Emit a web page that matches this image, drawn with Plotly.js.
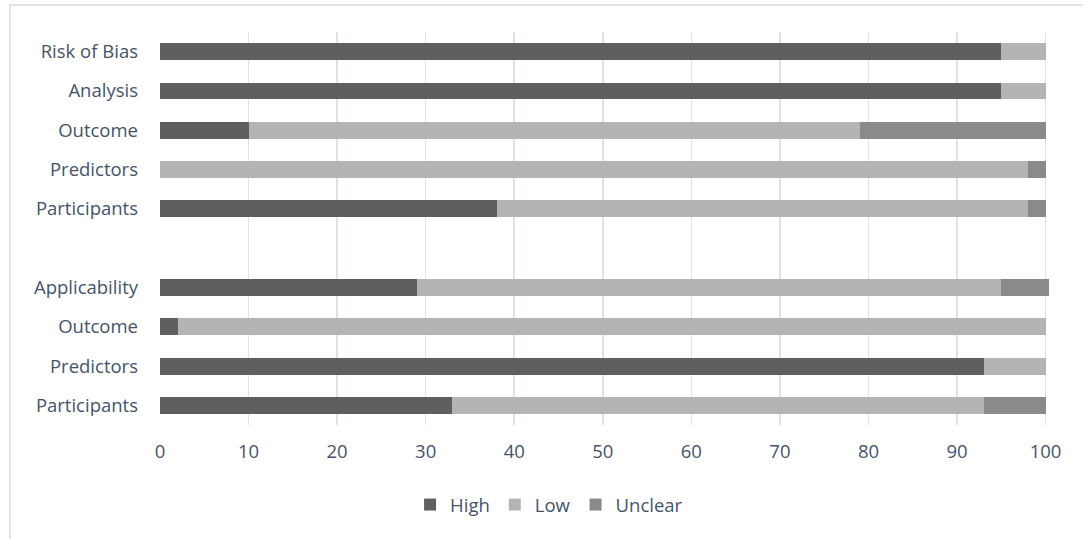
<!DOCTYPE html>
<html>
<head>
<meta charset="utf-8">
<script src="https://cdn.plot.ly/plotly-3.0.1.min.js"></script>
<style>
  html, body { margin: 0; padding: 0; background: #ffffff; }
  #wrap { position: relative; width: 1083px; height: 539px; overflow: hidden; }
  #chart { position: absolute; left: 0; top: 0; width: 1083px; height: 539px; }
  #frame { position: absolute; left: 9px; top: 4px; width: 1100px; height: 600px;
           border-top: 2px solid #e1e5eb; border-left: 2px solid #e1e5eb; pointer-events: none; }
</style>
</head>
<body>
<div id="wrap">
  <div id="chart"></div>
  <div id="frame"></div>
</div>
<script>
// Categories, top to bottom (blank row is the gap between the two groups)
const categories = ["Risk of Bias", "Analysis", "Outcome", "Predictors", "Participants", "",
                    "Applicability", "Outcome", "Predictors", "Participants"];
const seriesNames = ["High", "Low", "Unclear"];
const high    = [95, 95, 10, 0, 38, null, 29, 2, 93, 33];
const low     = [5, 5, 69, 98, 60, null, 66, 98, 7, 60];
const unclear = [0, 0, 21, 2, 2, null, 5.4, 0, 0, 7];
const xTicks  = [0, 10, 20, 30, 40, 50, 60, 70, 80, 90, 100];

const colors = ["#5f5f5f", "#b4b4b4", "#8a8a8a"];
const positions = categories.map((_, i) => i);
const seriesValues = [high, low, unclear];

const traces = seriesNames.map((name, k) => ({
  type: "bar",
  orientation: "h",
  name: name,
  x: seriesValues[k],
  y: positions,
  marker: { color: colors[k], line: { width: 0 } },
  hoverinfo: "x+name"
}));

const textColor = "#44546a";
const fs = 18.5;
const layout = {
  width: 1083,
  height: 539,
  margin: { l: 160, r: 33, t: 32, b: 114 },
  paper_bgcolor: "#ffffff",
  plot_bgcolor: "#ffffff",
  barmode: "stack",
  bargap: 0.57,
  font: { family: "Open Sans, Liberation Sans, sans-serif", size: fs, color: textColor },
  xaxis: {
    range: [0, 100.5],
    tickvals: xTicks,
    ticktext: xTicks.map(String),
    showgrid: true,
    gridcolor: "#dde1e8",
    gridwidth: 1.5,
    zeroline: false,
    showline: false,
    ticks: "",
    ticklabelstandoff: 13,
    tickfont: { size: fs, color: textColor },
    fixedrange: true
  },
  yaxis: {
    range: [categories.length - 0.5, -0.5],
    tickvals: positions,
    ticktext: categories,
    showgrid: false,
    zeroline: false,
    showline: false,
    ticks: "",
    ticklabelstandoff: 21,
    tickfont: { size: fs, color: textColor },
    fixedrange: true
  },
  showlegend: true,
  legend: {
    orientation: "h",
    xref: "container",
    yref: "container",
    x: 0.507,
    xanchor: "center",
    y: 0.063,
    yanchor: "middle",
    font: { size: fs, color: textColor },
    traceorder: "normal",
    itemwidth: 30
  }
};

Plotly.newPlot("chart", traces, layout, { displayModeBar: false, staticPlot: true });
</script>
</body>
</html>
